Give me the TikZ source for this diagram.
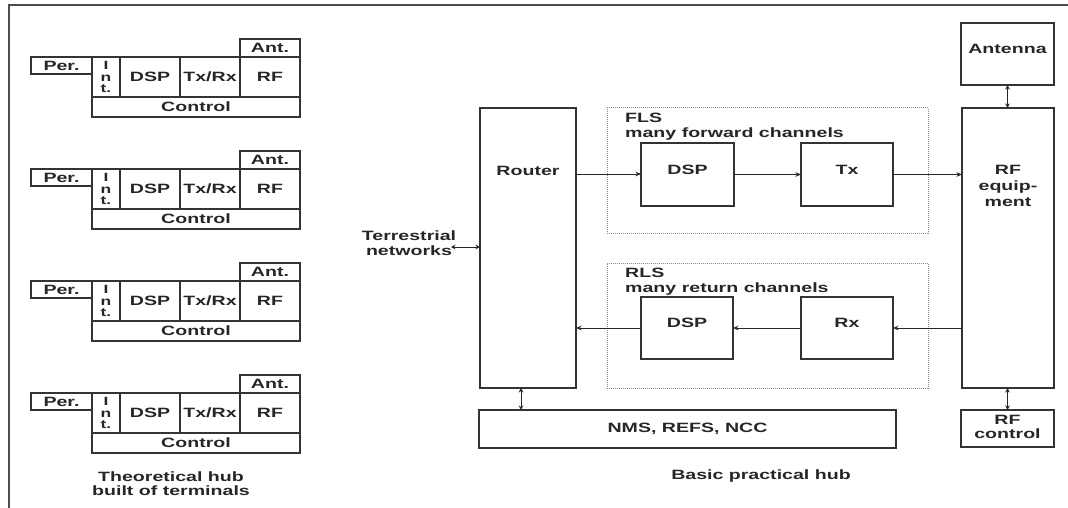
\documentclass[tikz,border=0pt]{standalone}
\usepackage{fontspec}
\setmainfont{Liberation Sans}[FakeStretch=1.45]
\usetikzlibrary{arrows.meta}
\newcommand{\hubfont}{\fontsize{13.5}{15}\selectfont\bfseries}
\newcommand{\intfont}{\fontsize{12}{11.5}\selectfont\bfseries}
\begin{document}
\begin{tikzpicture}[x=1pt,y=-1pt,
  every node/.style={font=\hubfont, text=black!85},
  box/.style={draw=black!80, line width=1.15pt, inner sep=0pt, outer sep=0pt},
  grp/.style={draw=black!45, densely dotted, line width=1pt, inner sep=0pt, outer sep=0pt},
  arr/.style={draw=black!85, line width=0.9pt, -{Stealth[length=5.5pt,width=4.5pt]}},
  darr/.style={draw=black!85, line width=1pt, {Stealth[length=4.5pt,width=4.5pt]}-{Stealth[length=4.5pt,width=4.5pt]}},
  txt/.style={inner sep=0pt, align=center}
]
\useasboundingbox (0,0) rectangle (1068,508);
% frame
\draw[black!70, line width=1.4pt] (9,508) -- (9,5) -- (1068,5);

% terminals
\foreach \k/\R in {1/57,2/169,3/281,4/393}{
  \node[box, minimum width=61pt, minimum height=17pt] (per\k) at (61.5,\R+8.5) {Per.};
  \node[box, minimum width=28pt, minimum height=40pt, align=center, font=\intfont] (int\k) at (106,\R+20) {I\\n\\t.};
  \node[box, minimum width=60pt, minimum height=40pt] (dsp\k) at (150,\R+20) {DSP};
  \node[box, minimum width=60pt, minimum height=40pt] (txrx\k) at (210,\R+20) {Tx/Rx};
  \node[box, minimum width=60pt, minimum height=40pt] (rf\k) at (270,\R+20) {RF};
  \node[box, minimum width=60pt, minimum height=18pt] (ant\k) at (270,\R-9) {Ant.};
  \node[box, minimum width=208pt, minimum height=20pt] (ctl\k) at (196,\R+50) {Control};
}
\node[txt, font=\fontsize{13.5}{14}\selectfont\bfseries] (theo) at (171,484) {Theoretical hub\\built of terminals};

% hub boxes
\node[box, minimum width=96pt, minimum height=280pt] (router) at (528,248) {};
\node[txt] (routerT) at (528,171) {Router};
\node[grp, minimum width=321pt, minimum height=125pt] (fls) at (767.5,170.5) {};
\node[txt, anchor=north west, align=left] (flsT) at (625,112.5) {FLS\\many forward channels};
\node[box, minimum width=93pt, minimum height=63pt] (dspf) at (687.5,174.5) {};
\node[txt] (dspfT) at (687.5,170) {DSP};
\node[box, minimum width=92pt, minimum height=63pt] (tx) at (847,174.5) {};
\node[txt] (txT) at (847,170) {Tx};

\node[grp, minimum width=321pt, minimum height=125pt] (rls) at (767.5,325.5) {};
\node[txt, anchor=north west, align=left] (rlsT) at (625,267.5) {RLS\\many return channels};
\node[box, minimum width=92pt, minimum height=62pt] (dspr) at (687,328) {};
\node[txt] (dsprT) at (687,323) {DSP};
\node[box, minimum width=92pt, minimum height=62pt] (rx) at (847,328) {};
\node[txt] (rxT) at (847,323) {Rx};

\node[box, minimum width=92pt, minimum height=280pt] (rfeq) at (1008,248) {};
\node[txt, font=\fontsize{13.5}{16}\selectfont\bfseries] (rfeqT) at (1008,186) {RF\\equip-\\ment};
\node[box, minimum width=93pt, minimum height=62pt] (antenna) at (1007.5,54) {};
\node[txt] (antennaT) at (1007.5,49) {Antenna};
\node[box, minimum width=93pt, minimum height=37pt] (rfctl) at (1007.5,428.5) {};
\node[txt, font=\fontsize{13.5}{14}\selectfont\bfseries] (rfctlT) at (1007.5,427) {RF\\control};
\node[box, minimum width=417pt, minimum height=38pt] (nms) at (687.5,429) {};
\node[txt] (nmsT) at (687.5,429) {NMS, REFS, NCC};
\node[txt] (basic) at (761,476) {Basic practical hub};

\node[txt, font=\fontsize{13.5}{15}\selectfont\bfseries] (terr) at (409,243) {Terrestrial\\networks};
\coordinate (tn) at (451,247);

% connectors
\draw[darr] (tn) -- (tn -| router.west);
\draw[arr] (router.east |- dspf.west) ++(0,-0.5) -- ([yshift=0.5pt]dspf.west);
\draw[arr] (dspf.east) -- (tx.west);
\draw[arr] (tx.east) -- (tx.east -| rfeq.west);
\draw[arr] (rx.east -| rfeq.west) -- (rx.east);
\draw[arr] (rx.west) -- (dspr.east);
\draw[arr] (dspr.west) -- (dspr.west -| router.east);
\draw[darr] (antenna.south) -- (antenna.south |- rfeq.north);
\draw[darr] (rfctl.north) -- (rfctl.north |- rfeq.south);
\coordinate (rb) at (521,388);
\draw[darr] (rb) -- (rb |- nms.north);
\end{tikzpicture}
\end{document}
